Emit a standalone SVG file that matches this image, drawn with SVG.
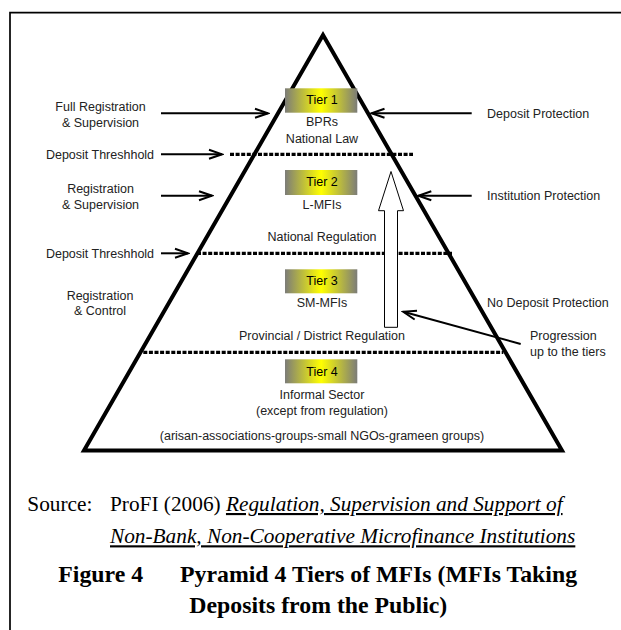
<svg xmlns="http://www.w3.org/2000/svg" width="621" height="630" viewBox="0 0 621 630">
<style>
.s{font-family:"Liberation Sans",Arial,sans-serif;font-size:12.5px;fill:#222}
.m{text-anchor:middle}
.serif{font-family:"Liberation Serif","Times New Roman",serif;fill:#000}
.src{font-size:21.3px}
.fig{font-size:23.8px;font-weight:bold}
.ul{font-style:italic;text-decoration:underline}
.arr{stroke:#000;stroke-width:2;fill:none;marker-end:url(#ah)}
.dot{stroke:#000;stroke-width:3.3;stroke-dasharray:4 1.6;fill:none}
.box{fill:url(#tg)}
</style>
<defs>
<linearGradient id="tg" x1="0" y1="0" x2="1" y2="0">
<stop offset="0" stop-color="#7c7c78"/>
<stop offset="0.5" stop-color="#ffff00"/>
<stop offset="1" stop-color="#7c7c78"/>
</linearGradient>
<marker id="ah" markerUnits="userSpaceOnUse" markerWidth="16" markerHeight="12" refX="14" refY="6" orient="auto" viewBox="0 0 16 12">
<path d="M1,1.5 L14,6 L1,10.5" fill="none" stroke="#000" stroke-width="2"/>
</marker>
</defs>
<rect width="621" height="630" fill="#fff"/>
<path d="M10,640 V12.7 H640" fill="none" stroke="#000" stroke-width="1.7"/>

<g id="pyramid">
<polygon points="323,35 84,450.5 562,450.5" fill="#fff" stroke="#000" stroke-width="4" stroke-linejoin="miter"/>
</g>

<g id="connectors">
<line class="dot" x1="230" y1="154.3" x2="413" y2="154.3"/>
<line class="dot" x1="197" y1="253.3" x2="452" y2="253.3"/>
<line class="dot" x1="143.3" y1="352.3" x2="503.3" y2="352.3"/>
<line class="arr" x1="161" y1="113.3" x2="268" y2="113.3"/>
<line class="arr" x1="161" y1="154.3" x2="222" y2="154.3"/>
<line class="arr" x1="161" y1="195.7" x2="212" y2="195.7"/>
<line class="arr" x1="161" y1="253.3" x2="188" y2="253.3"/>
<line class="arr" x1="471.7" y1="113.3" x2="371.5" y2="113.3"/>
<line class="arr" x1="471.7" y1="195.7" x2="418.3" y2="195.7"/>
<line class="arr" x1="520.7" y1="344" x2="403.3" y2="311.7"/>
<polygon id="progression-arrow" points="391,171.5 403.5,210.7 397.5,210.7 397.5,327.3 384.5,327.3 384.5,210.7 378.5,210.7" fill="#fff" stroke="#000" stroke-width="1"/>
</g>

<g id="tier1">
<rect class="box" x="285" y="88.3" width="72.3" height="24.4"/>
<text class="s m" x="322" y="103.8" style="fill:#000">Tier 1</text>
<text class="s m" x="322" y="126">BPRs</text>
<text class="s m" x="322" y="142.8">National Law</text>
</g>
<g id="tier2">
<rect class="box" x="285" y="170" width="72.3" height="25"/>
<text class="s m" x="322" y="186.3" style="fill:#000">Tier 2</text>
<text class="s m" x="322" y="208.5">L-MFIs</text>
<text class="s m" x="322" y="241">National Regulation</text>
</g>
<g id="tier3">
<rect class="box" x="285" y="269.3" width="72.3" height="24"/>
<text class="s m" x="322" y="284.5" style="fill:#000">Tier 3</text>
<text class="s m" x="322" y="307">SM-MFIs</text>
<text class="s m" x="322" y="340">Provincial / District Regulation</text>
</g>
<g id="tier4">
<rect class="box" x="285" y="359.3" width="72.3" height="24"/>
<text class="s m" x="322" y="376" style="fill:#000">Tier 4</text>
<text class="s m" x="322" y="398.5">Informal Sector</text>
<text class="s m" x="322" y="414.5">(except from regulation)</text>
<text class="s m" x="322" y="439.5">(arisan-associations-groups-small NGOs-grameen groups)</text>
</g>

<g id="left-labels">
<text class="s m" x="100.5" y="110.5">Full Registration</text>
<text class="s m" x="100.5" y="126.5">&amp; Supervision</text>
<text class="s m" x="100" y="158.8">Deposit Threshhold</text>
<text class="s m" x="100.5" y="192.5">Registration</text>
<text class="s m" x="100.5" y="208.5">&amp; Supervision</text>
<text class="s m" x="100" y="257.8">Deposit Threshhold</text>
<text class="s m" x="100" y="299.5">Registration</text>
<text class="s m" x="100" y="315">&amp; Control</text>
</g>
<g id="right-labels">
<text class="s" x="487" y="118">Deposit Protection</text>
<text class="s" x="487" y="200">Institution Protection</text>
<text class="s" x="487" y="307">No Deposit Protection</text>
<text class="s" x="530" y="340">Progression</text>
<text class="s" x="530" y="356">up to the tiers</text>
</g>

<g id="caption">
<text class="serif src" x="27.3" y="511">Source:</text>
<text class="serif src" x="110" y="511">ProFI (2006) <tspan class="ul">Regulation, Supervision and Support of </tspan></text>
<text class="serif src ul" x="110" y="543.3">Non-Bank, Non-Cooperative Microfinance Institutions</text>
<text class="serif fig" x="58.3" y="582">Figure 4</text>
<text class="serif fig" x="180" y="582">Pyramid 4 Tiers of MFIs (MFIs Taking</text>
<text class="serif fig" x="189.3" y="613">Deposits from the Public)</text>
</g>
</svg>
